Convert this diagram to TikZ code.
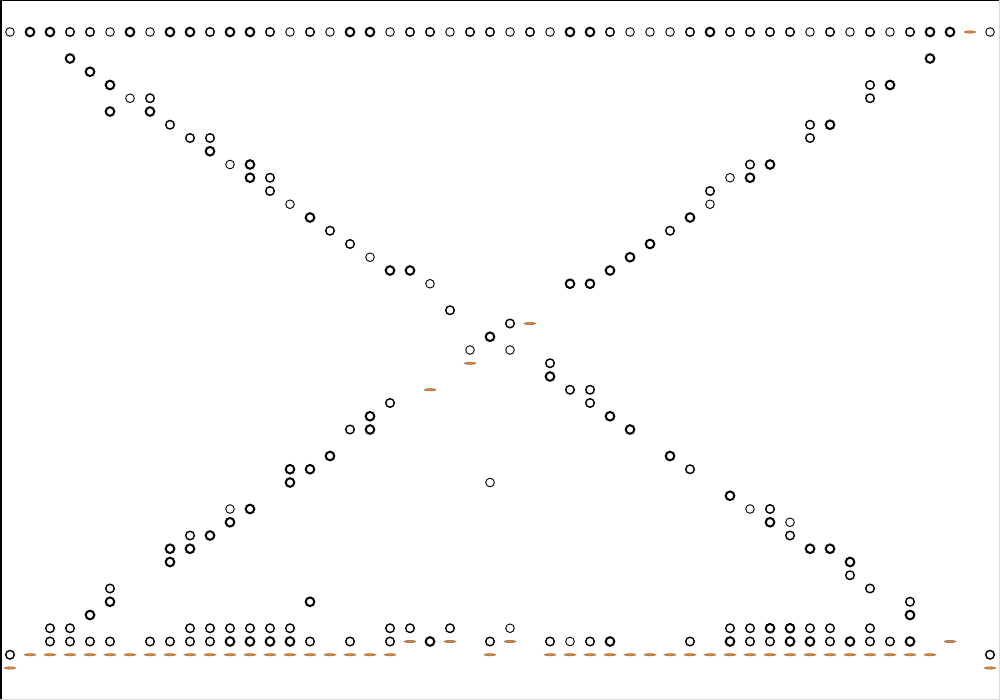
\documentclass[tikz,border=0pt]{standalone}
\usetikzlibrary{calc}
\definecolor{dotorange}{RGB}{255,127,14}
\definecolor{dotedge}{RGB}{135,120,110}
\tikzset{
  circthin/.style={draw=black,line width=0.9pt},
  circmed/.style={draw=black,line width=1.4pt},
  circbold/.style={draw=black,line width=2.0pt},
  orangedash/.style={draw=dotedge,fill=dotorange,line width=0.6pt},
}
\newcommand{\rowy}[1]{32+13.25*#1}
\begin{document}
\begin{tikzpicture}[x=1pt,y=-1pt]
\useasboundingbox (0,0) rectangle (1000,700);
\fill[white] (0,0) rectangle (1000,700);
% frame
\draw[black,line width=2pt] (0,0) -- (1000,0);
\draw[black,line width=3pt] (0,0) -- (0,700);
\draw[black!15,line width=1pt] (999.5,0) -- (999.5,700);
\draw[black!15,line width=1pt] (0,699.5) -- (1000,699.5);
% thin circles
\foreach \x/\r in {10/0,110/0,150/0,290/0,330/0,390/0,450/0,510/0,550/0,630/0,650/0,670/0,810/0,850/0,890/0,990/0,
  130/5,230/10,730/11,290/13,710/13,370/17,430/19,470/24,510/24,490/34,230/36,750/36,790/37,510/45,570/46}
  \draw[circthin] (\x,{\rowy{\r}}) circle (4.3);
% medium circles
\foreach \x/\r in {70/0,90/0,210/0,270/0,310/0,410/0,430/0,470/0,490/0,530/0,610/0,690/0,730/0,750/0,770/0,790/0,830/0,870/0,910/0,
  870/4,150/5,870/5,170/7,810/7,190/8,210/8,810/8,750/10,270/11,270/12,710/12,330/15,670/15,350/16,
  450/21,510/22,550/25,570/27,590/27,390/28,590/28,350/30,690/33,770/36,190/38,790/38,850/41,110/42,870/42,910/43,
  50/45,70/45,190/45,210/45,230/45,250/45,270/45,290/45,390/45,410/45,450/45,730/45,750/45,810/45,830/45,870/45,
  50/46,70/46,90/46,110/46,150/46,170/46,190/46,210/46,310/46,350/46,390/46,490/46,550/46,590/46,690/46,750/46,770/46,830/46,870/46,890/46,
  10/47,990/47}
  \draw[circmed] (\x,{\rowy{\r}}) circle (4.3);
% bold circles
\foreach \x/\r in {30/0,50/0,130/0,170/0,190/0,230/0,250/0,350/0,370/0,570/0,590/0,710/0,930/0,950/0,
  70/2,930/2,90/3,110/4,890/4,110/6,150/6,830/7,210/9,250/10,770/10,250/11,750/11,310/14,690/14,650/16,630/17,
  390/18,410/18,610/18,570/19,590/19,490/23,550/26,370/29,610/29,370/30,630/30,330/32,670/32,290/33,310/33,290/34,
  730/35,250/36,230/37,770/37,210/38,170/39,190/39,810/39,830/39,170/40,850/40,110/43,310/43,90/44,910/44,
  770/45,790/45,230/46,250/46,270/46,290/46,430/46,610/46,730/46,790/46,810/46,850/46,910/46}
  \draw[circbold] (\x,{\rowy{\r}}) circle (4.3);
% orange dashes
\foreach \x/\r in {970/0,530/22,470/25,430/27,410/46,450/46,510/46,950/46,
  30/47,50/47,70/47,90/47,110/47,130/47,150/47,170/47,190/47,210/47,230/47,250/47,270/47,290/47,310/47,330/47,350/47,370/47,390/47,
  490/47,550/47,570/47,590/47,610/47,630/47,650/47,670/47,690/47,710/47,730/47,750/47,770/47,790/47,810/47,830/47,850/47,870/47,890/47,910/47,930/47,
  10/48,990/48}
  \draw[orangedash] (\x,{\rowy{\r}}) ellipse (5.8 and 1.1);
\end{tikzpicture}
\end{document}
